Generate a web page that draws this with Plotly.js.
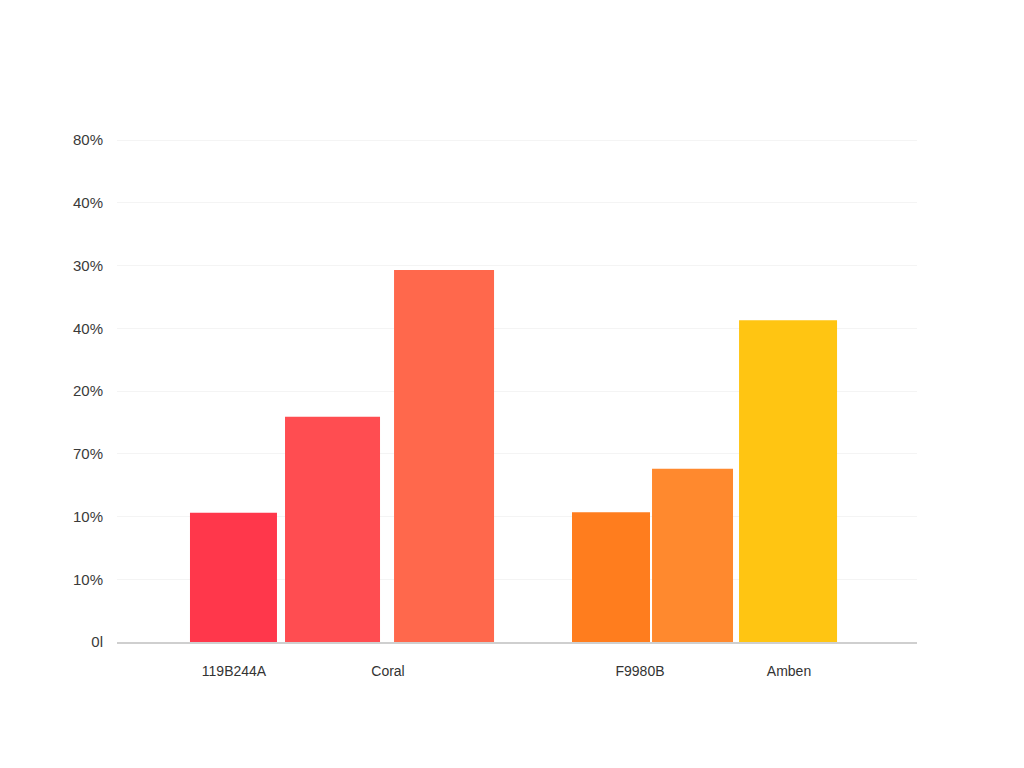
<!DOCTYPE html>
<html>
<head>
<meta charset="utf-8">
<script src="https://cdn.plot.ly/plotly-3.0.1.min.js"></script>
<style>
  html, body { margin: 0; padding: 0; background: #fff; }
  #chart { width: 1024px; height: 768px; }
</style>
</head>
<body>
<div id="chart"></div>
<script>
"use strict"

// values (percent)
var barValues = [20.6, 35.9, 59.3, 20.7, 27.6, 51.3];
var barColors = ['#FF374B', '#FF4D51', '#FF684C', '#FF7D1E', '#FF892E', '#FFC512'];

// tick labels as printed in the reference
var categoryLabels = ['119B244A', 'Coral', 'F9980B', 'Amben'];
var yTickValues = [0, 10, 20, 30, 40, 50, 60, 70, 80];
var yTickLabels = ['0l', '10%', '10%', '70%', '20%', '40%', '30%', '40%', '80%'];

// layout: where bars and labels sit along the x axis (axis units)
var barCenters = [1.456, 2.694, 4.088, 6.175, 7.194, 8.388];
var barWidths = [1.0875, 1.1875, 1.25, 0.975, 1.0125, 1.225];
var labelCenters = [1.4625, 3.3875, 6.5375, 8.4];

var trace = {
    type: 'bar',
    x: barCenters,
    y: barValues,
    width: barWidths,
    marker: { color: barColors, line: { width: 0 } },
    hoverinfo: 'y',
    showlegend: false
};

var font = { family: '"Liberation Sans", Arial, sans-serif', size: 14, color: '#3a3a3a' };

var layout = {
    width: 1024,
    height: 768,
    margin: { l: 117, r: 107, t: 115, b: 126 },
    paper_bgcolor: '#ffffff',
    plot_bgcolor: '#ffffff',
    font: font,
    xaxis: {
        range: [0, 10],
        tickvals: labelCenters,
        ticktext: categoryLabels,
        showgrid: false,
        zeroline: false,
        showline: true,
        linecolor: '#cfcfcf',
        linewidth: 1.5,
        ticks: '',
        ticklabelstandoff: 16,
        tickfont: { family: font.family, size: 14, color: '#333333' },
        fixedrange: true
    },
    yaxis: {
        range: [0, 84],
        tickvals: yTickValues,
        ticktext: yTickLabels,
        showgrid: true,
        gridcolor: '#f4f4f4',
        gridwidth: 1,
        zeroline: false,
        showline: false,
        ticks: '',
        ticklabelstandoff: 13,
        tickfont: { family: font.family, size: 15, color: '#3a3a3a' },
        fixedrange: true
    }
};

Plotly.newPlot('chart', [trace], layout, { displayModeBar: false, staticPlot: true });
</script>
</body>
</html>
